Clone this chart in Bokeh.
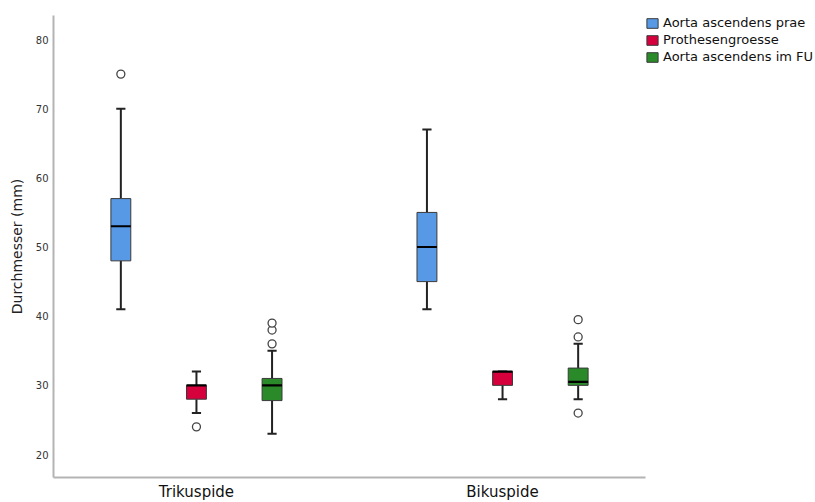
from bokeh.plotting import figure
from bokeh.models import (Range1d, FixedTicker, Legend, LegendItem, ColumnDataSource)
from bokeh.embed import file_html
from bokeh.resources import INLINE

# ---------------- data ----------------
categories = ["Trikuspide", "Bikuspide"]
series = ["Aorta ascendens prae", "Prothesengroesse", "Aorta ascendens im FU"]

prae_low = [41, 41]
prae_q1 = [48, 45]
prae_med = [53, 50]
prae_q3 = [57, 55]
prae_high = [70, 67]
prae_out = [[75], []]

prot_low = [26, 28]
prot_q1 = [28, 30]
prot_med = [30, 32]
prot_q3 = [30, 32]
prot_high = [32, 32]
prot_out = [[24], []]

fu_low = [23, 28]
fu_q1 = [27.8, 30]
fu_med = [30, 30.5]
fu_q3 = [31, 32.5]
fu_high = [35, 36]
fu_out = [[36, 38, 39], [26, 37, 39.5]]

y_ticks = [20, 30, 40, 50, 60, 70, 80]

# ---------------- style ----------------
colors = ["#5899e6", "#d6003c", "#2a8a2a"]
offsets = [-0.247, 0.0, 0.247]
box_w = 0.065
cap_w = 0.03
FONT = "DejaVu Sans"

stats = [
    (prae_low, prae_q1, prae_med, prae_q3, prae_high, prae_out),
    (prot_low, prot_q1, prot_med, prot_q3, prot_high, prot_out),
    (fu_low, fu_q1, fu_med, fu_q3, fu_high, fu_out),
]

p = figure(frame_width=592, frame_height=462, output_backend="svg", toolbar_location=None,
           x_range=Range1d(-0.467, 1.467), y_range=Range1d(16.68, 83.47),
           min_border_left=53, min_border_top=15, min_border_right=0,
           min_border_bottom=0)
p.outline_line_color = None
p.xgrid.visible = False
p.ygrid.visible = False
p.background_fill_color = "white"

items = []
for si, (low, q1, med, q3, high, outs) in enumerate(stats):
    xs = [ci + offsets[si] for ci in range(len(categories))]
    src = ColumnDataSource(dict(
        x=xs, low=low, q1=q1, med=med, q3=q3, high=high,
        bl=[x - box_w / 2 for x in xs], br=[x + box_w / 2 for x in xs],
        cl=[x - cap_w / 2 for x in xs], cr=[x + cap_w / 2 for x in xs],
    ))
    # whiskers
    p.segment(x0="x", y0="q3", x1="x", y1="high", source=src, line_color="#222222", line_width=2)
    p.segment(x0="x", y0="low", x1="x", y1="q1", source=src, line_color="#222222", line_width=2)
    p.segment(x0="cl", y0="high", x1="cr", y1="high", source=src, line_color="#222222", line_width=2)
    p.segment(x0="cl", y0="low", x1="cr", y1="low", source=src, line_color="#222222", line_width=2)
    # box
    r = p.vbar(x="x", width=box_w, bottom="q1", top="q3", source=src,
               fill_color=colors[si], line_color="#3a3a3a", line_width=1)
    # median
    p.segment(x0="bl", y0="med", x1="br", y1="med", source=src, line_color="black", line_width=2.2)
    # outliers
    ox, oy = [], []
    for ci, vals in enumerate(outs):
        for v in vals:
            ox.append(ci + offsets[si])
            oy.append(v)
    if ox:
        p.scatter(ox, oy, size=8, marker="circle", fill_color="white",
                  line_color="#444444", line_width=1.3)
    items.append(LegendItem(label=series[si], renderers=[r]))

# axes
p.yaxis.ticker = FixedTicker(ticks=y_ticks)
p.yaxis.axis_label = "Durchmesser (mm)"
p.yaxis.axis_label_text_font = FONT
p.yaxis.axis_label_text_font_style = "normal"
p.yaxis.axis_label_text_font_size = "14px"
p.yaxis.axis_label_text_color = "#222222"
p.yaxis.axis_label_standoff = 8
p.yaxis.major_label_text_font = FONT
p.yaxis.major_label_text_font_size = "10px"
p.yaxis.major_label_text_color = "#333333"
p.yaxis.major_label_standoff = 5

p.xaxis.ticker = FixedTicker(ticks=list(range(len(categories))))
p.xaxis.major_label_overrides = {i: c for i, c in enumerate(categories)}
p.xaxis.major_label_text_font = FONT
p.xaxis.major_label_text_font_size = "15px"
p.xaxis.major_label_text_color = "#111111"
p.xaxis.major_label_standoff = 5

for ax in (p.xaxis, p.yaxis):
    ax.major_tick_out = 0
    ax.major_tick_in = 0
    ax.minor_tick_out = 0
    ax.minor_tick_in = 0
    ax.axis_line_color = "#b4b4b4"
    ax.axis_line_width = 2

legend = Legend(items=items, location="top_left", border_line_color=None,
                background_fill_alpha=0, margin=0, padding=3, spacing=2,
                glyph_width=14, glyph_height=12, label_height=12,
                label_standoff=4, label_text_font=FONT,
                label_text_font_size="13px", label_text_color="#111111")
p.add_layout(legend, "right")

open("out.html", "w").write(file_html(p, INLINE))
